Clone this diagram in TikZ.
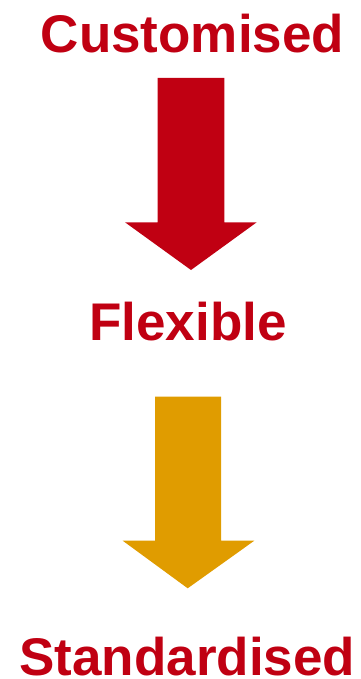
\documentclass[tikz,border=0pt]{standalone}
\usepackage{fontspec}
\setmainfont{Liberation Sans}
\usepackage{xcolor}
\usepackage{tikz}

\definecolor{darkred}{RGB}{192,0,18}
\definecolor{amber}{RGB}{224,156,0}

\tikzset{
  level/.style={text=darkred,font=\fontsize{53}{60}\selectfont\bfseries,inner sep=0pt,text depth=0pt,anchor=base},
  blockarrow/.style={fill=#1,draw=none}
}

\begin{document}
\begin{tikzpicture}[x=1pt,y=-1pt]
\useasboundingbox (0,0) rectangle (360,679);
\node[level] (cust) at (192.5,52.3) {Customised};
\node[level] (flex) at (188,340.5) {Flexible};
\node[level] (stand) at (187.2,675) {Standardised};
% red arrow
\fill[blockarrow=darkred] (157.7,78)--(224.3,78)--(224.3,222.3)--(256.7,222.3)--(191,270)--(125,222.3)--(157.7,222.3)--cycle;
% orange arrow
\fill[blockarrow=amber] (155,396.7)--(221,396.7)--(221,540.7)--(254.3,540.7)--(187.7,588.3)--(122.7,540.7)--(155,540.7)--cycle;
\end{tikzpicture}
\end{document}
